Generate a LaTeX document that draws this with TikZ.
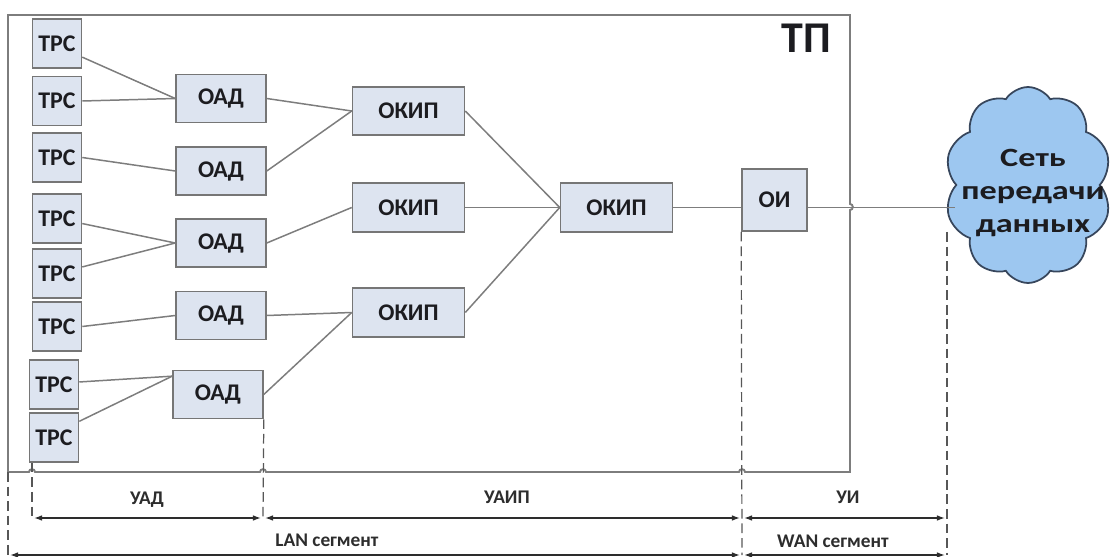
\documentclass[tikz,border=0pt]{standalone}
\usepackage{fontspec}
\usepackage{graphicx}
\setmainfont{Carlito}
\usetikzlibrary{arrows.meta,shapes.symbols,calc}

\definecolor{boxfill}{RGB}{221,228,240}
\definecolor{boxline}{RGB}{118,118,118}
\definecolor{wire}{RGB}{125,125,125}
\definecolor{dimline}{RGB}{45,45,45}
\definecolor{cloudfill}{RGB}{157,199,240}
\definecolor{cloudline}{RGB}{55,70,92}
\definecolor{ink}{RGB}{28,28,32}

\begin{document}
\begin{tikzpicture}[x=0.02cm,y=-0.02cm,
  unit/.style={draw=boxline,fill=boxfill,line width=0.9pt,inner sep=0pt,
    font=\fontsize{13.6pt}{16pt}\selectfont\bfseries,text=ink},
  trs/.style={unit,minimum width=0.98cm,minimum height=0.98cm},
  oad/.style={unit,minimum width=1.8cm,minimum height=0.96cm},
  okip/.style={unit,minimum width=2.24cm,minimum height=0.97cm},
  oi/.style={unit,minimum width=1.3cm,minimum height=1.24cm},
  wire/.style={draw=wire,line width=0.85pt},
  frame/.style={draw=wire,line width=1.1pt},
  extline/.style={draw=dimline!80,line width=0.7pt,dash pattern=on 5.5pt off 2.8pt},
  dimarrow/.style={draw=dimline,line width=0.7pt,{Latex[length=4.5pt,width=3.2pt]}-{Latex[length=4.5pt,width=3.2pt]},
    shorten <=1.2pt,shorten >=1.2pt},
  dimlabel/.style={font=\fontsize{11pt}{13pt}\selectfont\bfseries,text=dimline},
  widetext/.style={font=\fontsize{15pt}{18.7pt}\selectfont\bfseries,text=ink,align=center}
]
\useasboundingbox (0,0) rectangle (1116,557);

% enclosure of the terminal point, with small hops at the crossings
\coordinate (tpNW) at (8,15);
\coordinate (tpSE) at (850,472);
\coordinate (tpSW) at (8,472);
\draw[frame] (tpSW) -- (tpNW) -- (tpNW -| tpSE) -- (850,204) to[out=0,in=0,looseness=1.6] (850,210)
  -- (tpSE) -- (745,472) to[out=90,in=90,looseness=1.6] (739,472)
  -- (266,472) to[out=90,in=90,looseness=1.6] (260,472)
  -- (35,472) to[out=90,in=90,looseness=1.6] (29,472) -- cycle;
\node[font=\fontsize{25pt}{28pt}\selectfont\bfseries,text=ink] (tp) at (806,38) {ТП};

% terminals
\node[trs] (tpc1) at (57,43.5) {ТРС};
\node[trs] (tpc2) at (57,101) {ТРС};
\node[trs] (tpc3) at (57,157.5) {ТРС};
\node[trs] (tpc4) at (57,218.5) {ТРС};
\node[trs] (tpc5) at (57,273.5) {ТРС};
\node[trs] (tpc6) at (57,326.5) {ТРС};
\node[trs] (tpc7) at (54,384.5) {ТРС};
\node[trs] (tpc8) at (54,437.5) {ТРС};

% access units
\node[oad] (oad1) at (221,98.5) {ОАД};
\node[oad] (oad2) at (221,171) {ОАД};
\node[oad] (oad3) at (221,243) {ОАД};
\node[oad] (oad4) at (221,315.5) {ОАД};
\node[oad] (oad5) at (218,394.5) {ОАД};

% aggregation units
\node[okip] (okip1) at (408.5,111) {ОКИП};
\node[okip] (okip2) at (408.5,207.5) {ОКИП};
\node[okip] (okip3) at (408.5,312.5) {ОКИП};
\node[okip] (okip4) at (616.5,207.5) {ОКИП};

% interface unit
\node[oi] (oi) at (774.5,200) {ОИ};

% data network
\node[cloud,cloud puffs=10,cloud puff arc=115,cloud ignores aspect,
  minimum width=3.34cm,minimum height=3.92cm,inner sep=0pt,
  draw=cloudline,fill=cloudfill,line width=1pt] (net) at (1028,185) {};
\node[widetext] (nettext) at (1033,193)
  {\scalebox{1.3}[1]{Сеть}\\\scalebox{1.3}[1]{передачи}\\\scalebox{1.3}[1]{данных}};

% terminal links
\draw[wire] ($(tpc1.north east)!0.77!(tpc1.south east)$) -- (oad1.west);
\draw[wire] (tpc2.east) -- (oad1.west);
\draw[wire] (tpc3.east) -- (oad2.west);
\draw[wire] ($(tpc4.north east)!0.6!(tpc4.south east)$) -- (oad3.west);
\draw[wire] ($(tpc5.north east)!0.37!(tpc5.south east)$) -- (oad3.west);
\draw[wire] (tpc6.east) -- (oad4.west);
\draw[wire] ($(tpc7.north east)!0.45!(tpc7.south east)$) -- ($(oad5.north west)!0.13!(oad5.south west)$);
\draw[wire] ($(tpc8.north east)!0.18!(tpc8.south east)$) -- ($(oad5.north west)!0.13!(oad5.south west)$);

% access to aggregation links
\draw[wire] (oad1.east) -- (okip1.west);
\draw[wire] (oad2.east) -- (okip1.west);
\draw[wire] (oad3.east) -- (okip2.west);
\draw[wire] (oad4.east) -- (okip3.west);
\draw[wire] (oad5.east) -- (okip3.west);
\draw[wire] (okip1.east) -- (okip4.west);
\draw[wire] (okip2.east) -- (okip4.west);
\draw[wire] (okip3.east) -- (okip4.west);
\draw[wire] (okip4.east) -- (okip4.east -| oi.west);
\draw[wire] (okip4.east -| oi.east) -- (okip4.east -| net.west);

% dimension bases
\coordinate (eA) at (32,518);
\coordinate (eB) at (263,518);
\coordinate (eC) at (742,518);
\coordinate (eD) at (947,518);
\coordinate (fA) at (8,555);
\coordinate (fC) at (742,555);
\coordinate (fD) at (947,555);
\coordinate (netfoot) at (947,232);

% extension lines
\draw[extline] (tpSW) -- (fA);
\draw[extline] (tpc8.south -| eA) -- (eA);
\draw[extline] (oad5.south east) -- (eB);
\draw[extline] (oi.south west) -- (fC);
\draw[extline] (netfoot) -- (fD);

% dimensions
\draw[dimarrow] (eA) -- (eB);
\draw[dimarrow] (eB) -- (eC);
\draw[dimarrow] (eC) -- (eD);
\draw[dimarrow] (fA) -- (fC);
\draw[dimarrow] (fC) -- (fD);

\node[dimlabel] (uad) at (147,500) {УАД};
\node[dimlabel] (uaip) at (507,497) {УАИП};
\node[dimlabel] (ui) at (848,497) {УИ};
\node[dimlabel] (lan) at (327,540) {LAN сегмент};
\node[dimlabel] (wan) at (833,541) {WAN сегмент};
\end{tikzpicture}
\end{document}
